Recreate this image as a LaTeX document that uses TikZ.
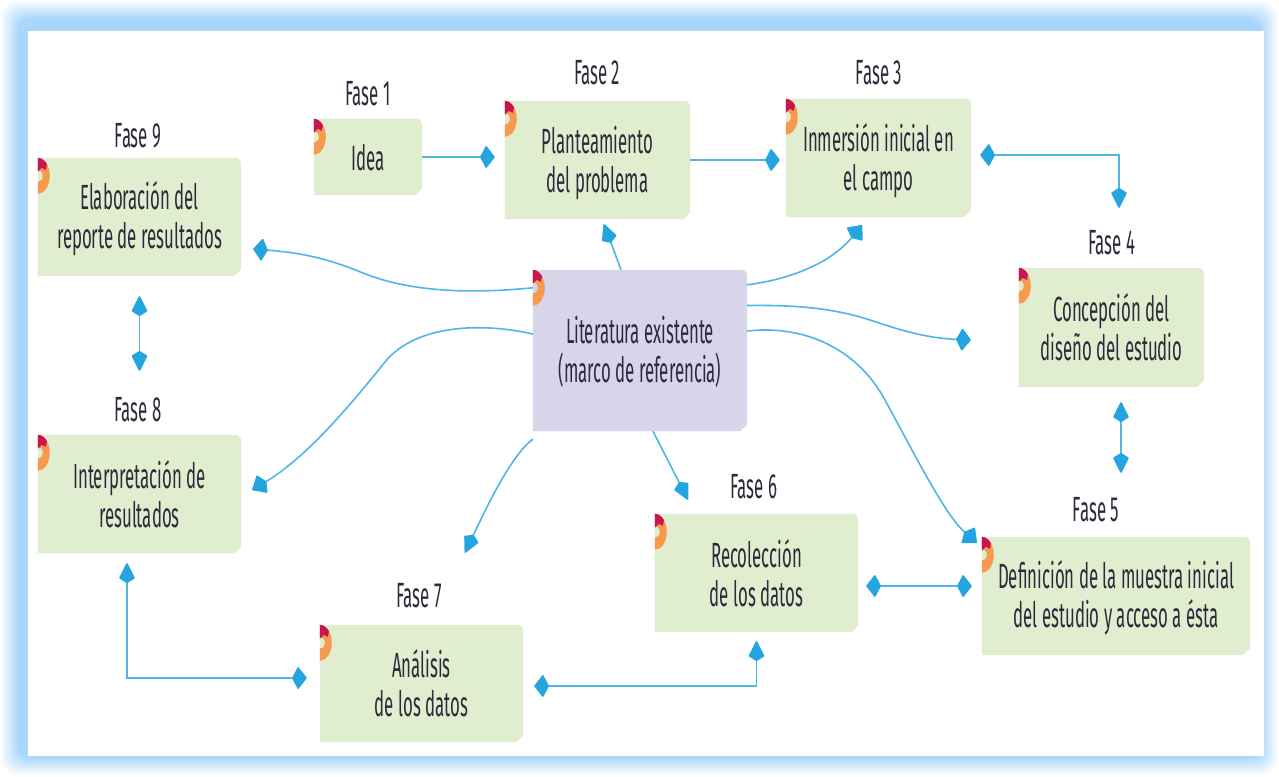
\documentclass[tikz,border=0pt]{standalone}
\usepackage{xcolor}
\usepackage{fontspec}
\setmainfont[FakeStretch=0.48]{Fira Sans}
\usepackage{tikz}
\usetikzlibrary{arrows.meta, backgrounds, calc}

\definecolor{frameblue}{HTML}{A9D6FB}
\definecolor{fasegreen}{HTML}{E0EDCF}
\definecolor{litviolet}{HTML}{D8D5EB}
\definecolor{linkblue}{HTML}{4FB6E6}
\definecolor{tipblue}{HTML}{25A5E0}
\definecolor{badgered}{HTML}{C8174F}
\definecolor{badgeorange}{HTML}{F79A50}
\definecolor{textdark}{HTML}{2B2B3B}

\tikzset{
	puntah/.tip={Kite[length=15pt,width=23pt,inset=6pt,round,color=tipblue]},
	puntav/.tip={Kite[length=21pt,width=16pt,inset=5pt,round,color=tipblue]},
	puntad/.tip={Kite[length=17pt,width=21pt,inset=5pt,round,color=tipblue]},
	fasebox/.style={inner sep=0pt, align=center, text=textdark, font=\fontsize{35}{39}\selectfont},
	faselabel/.style={inner sep=0pt, text=textdark, font=\fontsize{35}{39}\selectfont},
	flecha/.style={line width=1.6pt, color=linkblue},
	badge/.pic={
		\fill[badgeorange] (0,0) arc[start angle=-90,end angle=90,x radius=12,y radius=18] -- (0,24) arc[start angle=90,end angle=-90,x radius=5,y radius=6] -- cycle;
		\fill[badgered] (0,0) arc[start angle=-90,end angle=-40,x radius=12,y radius=18] -- (8,12) -- (4,10) -- (0,14) -- cycle;
	}
}

\begin{document}
\begin{tikzpicture}[x=1pt, y=-1pt]
	
	\useasboundingbox (0,0) rectangle (1279,776);
	
	%//soft frame round the sheet
	\begin{scope}[on background layer]
		\foreach \i in {0,...,10}
		{
			\pgfmathsetmacro{\mixval}{\i*10}
			\fill[frameblue!\mixval!white, rounded corners=14pt] (1.8*\i,1.8*\i) rectangle (1279-1.8*\i,776-1.8*\i);
		}
		\fill[white] (28,31) rectangle (1264,756);
	\end{scope}
	
	%//boxes
	\foreach \name/\cx/\cy/\w/\h/\col/\rh/\txt in {
		idea/368/157/108/76/fasegreen/28/{Idea},
		fase2/597.5/160/185/118/fasegreen/34/{Planteamiento\\del problema},
		fase3/878.5/158/185/118/fasegreen/34/{Inmersión inicial en\\el campo},
		fase4/1111.5/327.5/185/119/fasegreen/26/{Concepción del\\diseño del estudio},
		fase5/1116/596/268/118/fasegreen/32/{Definición de la muestra inicial\\del estudio y acceso a ésta},
		fase6/756.5/573/203/118/fasegreen/0/{Recolección\\de los datos},
		fase7/421.5/683.5/203/117/fasegreen/0/{Análisis\\de los datos},
		fase8/139.5/494/203/118/fasegreen/0/{Interpretación de\\resultados},
		fase9/139.5/217/203/118/fasegreen/32/{Elaboración del\\reporte de resultados},
		lit/640/350.5/214/161/litviolet/31/{Literatura existente\\(marco de referencia)}}
	{
		\node (\name) [fasebox, minimum width=\w pt, minimum height=\h pt] at (\cx,\cy) {\rule{0pt}{\rh pt}\txt};
		\begin{scope}[on background layer]
			\fill[\col] (\name.south west) -- (\name.north west) [rounded corners=6pt] -- (\name.north east) [sharp corners] -- ([yshift=7pt]\name.south east) -- ([xshift=-7pt]\name.south east) -- cycle;
		\end{scope}
		\pic at (\name.north west) {badge};
	}
	
	%//labels
	\foreach \x/\cx/\cy in {1/368/94, 2/597/73, 3/879/73, 4/1112/243, 5/1096/510, 6/754/487, 7/419/596, 8/138/410, 9/138/136}
	\node (lab\x) [faselabel] at (\cx,\cy) {Fase \x};
	
	%//links between phases
	\draw[flecha, -{puntah}, shorten >=10pt] (idea.east) -- (idea.east -| fase2.west);
	\draw[flecha, -{puntah}, shorten >=6pt] (fase2.east) -- (fase2.east -| fase3.west);
	\draw[flecha, {puntah}-{puntav}] ([xshift=9pt,yshift=3pt]fase3.east) -| ([xshift=7.5pt,yshift=60pt]fase4.north);
	\draw[flecha, {puntav}-{puntav}] ([xshift=9.5pt,yshift=-15pt]fase4.south) -- ([xshift=5pt,yshift=64pt]fase5.north);
	\draw[flecha, {puntah}-{puntah}] ([xshift=8pt,yshift=-13pt]fase6.east) -- ([xshift=-10pt,yshift=10pt]fase5.west);
	\draw[flecha, {puntah}-{puntav}] ([xshift=11pt,yshift=-2.5pt]fase7.east) -| ([yshift=-9pt]fase6.south);
	\draw[flecha, {puntav}-{puntah}] ([xshift=-12.5pt,yshift=-10pt]fase8.south) |- ([xshift=-13pt,yshift=5.5pt]fase7.west);
	\draw[flecha, {puntav}-{puntav}] ([yshift=-20pt]fase9.south) -- ([yshift=64pt]fase8.north);
	
	%//links from the literature
	\draw[flecha, -{puntah}] ([yshift=-18pt]lit.north west) .. controls (470,294) and (410,292) .. (363,273) .. controls (320,255) and (290,252) .. ([xshift=12pt,yshift=-32pt]fase9.east);
	\draw[flecha, -{puntav}] ([xshift=-19pt]lit.north) -- ([xshift=6.5pt,yshift=-5pt]fase2.south);
	\draw[flecha, -{puntad}] ([yshift=-15pt]lit.north east) .. controls (800,278) and (835,258) .. ([xshift=-16.5pt,yshift=-8pt]fase3.south);
	\draw[flecha, -{puntah}] ([yshift=45pt]lit.east) .. controls (790,305) and (830,307) .. (870,320) .. controls (900,330) and (925,338) .. ([xshift=-48pt,yshift=-12.5pt]fase4.west);
	\draw[flecha, -{puntad}] ([yshift=19.5pt]lit.east) .. controls (800,325) and (855,345) .. (885,400) .. controls (915,455) and (945,515) .. ([xshift=-5pt,yshift=-6pt]fase5.north west);
	\draw[flecha, -{puntad}] ([yshift=16.5pt]lit.west) .. controls (480,322) and (415,325) .. (385,362) .. controls (355,399) and (310,455) .. ([xshift=11pt,yshift=4pt]fase8.east);
	\draw[flecha, -{puntav}] ([yshift=-8pt]lit.south west) .. controls (512,455) and (490,500) .. ([xshift=43.5pt,yshift=72pt]fase7.north);
	\draw[flecha, -{puntav}] ([xshift=13pt]lit.south) -- ([xshift=-68.5pt,yshift=14pt]fase6.north);
	
\end{tikzpicture}
\end{document}
